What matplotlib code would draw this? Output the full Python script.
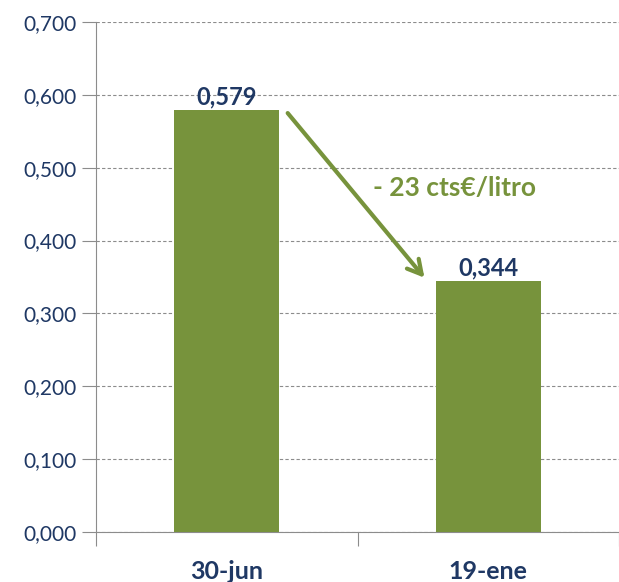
import matplotlib.pyplot as plt
from matplotlib.ticker import FuncFormatter, FixedLocator

categories = ["30-jun", "19-ene"]
values = [0.579, 0.344]
value_labels = ["0,579", "0,344"]
yticks = [0.0, 0.1, 0.2, 0.3, 0.4, 0.5, 0.6, 0.7]
note = "- 23 cts€/litro"

green = "#77933C"
navy = "#1F3864"
plt.rcParams["font.family"] = ["Lato", "DejaVu Sans"]

fig = plt.figure(figsize=(6.19, 5.82), dpi=100)
ax = fig.add_axes([96 / 619, 50 / 582, 523 / 619, 510 / 582])

x = list(range(len(categories)))
ax.bar(x, values, width=0.4, color=green, zorder=3)

for xi, v, lab in zip(x, values, value_labels):
    ax.text(xi, v + 0.002, lab, ha="center", va="bottom", fontsize=17,
            fontweight="bold", color=navy, zorder=4)

# arrow showing the drop
ax.annotate("", xy=(0.756, 0.349), xytext=(0.233, 0.575),
            arrowprops=dict(arrowstyle="->,head_length=1.0,head_width=0.55",
                            color=green, lw=3, shrinkA=0, shrinkB=0), zorder=4)
ax.text(0.87, 0.472, note, ha="center", va="center", fontsize=19,
        fontweight="bold", color=green)

ax.set_xlim(-0.5, 1.5)
ax.set_ylim(0, 0.7)
ax.set_yticks(yticks)
ax.yaxis.set_major_formatter(FuncFormatter(lambda v, p: f"{v:.3f}".replace(".", ",")))
ax.yaxis.grid(True, linestyle=(0, (3, 2)), color="#8c8c8c", linewidth=0.8, zorder=0)

ax.xaxis.set_major_locator(FixedLocator([-0.5, 0.5, 1.5]))
ax.xaxis.set_major_formatter(FuncFormatter(lambda v, p: ""))
ax.xaxis.set_minor_locator(FixedLocator(x))
ax.set_xticklabels(categories, minor=True)
ax.tick_params(axis="x", which="minor", length=0, pad=20, labelsize=18,
               labelcolor=navy)
for t in ax.get_xticklabels(minor=True):
    t.set_fontweight("bold")
ax.tick_params(axis="x", which="major", length=10, color="#8c8c8c")
ax.tick_params(axis="y", length=10, color="#8c8c8c", labelsize=15,
               labelcolor=navy, pad=4)

for s in ["top", "right"]:
    ax.spines[s].set_visible(False)
for s in ["left", "bottom"]:
    ax.spines[s].set_color("#8c8c8c")

fig.savefig("out.png", dpi=100)
